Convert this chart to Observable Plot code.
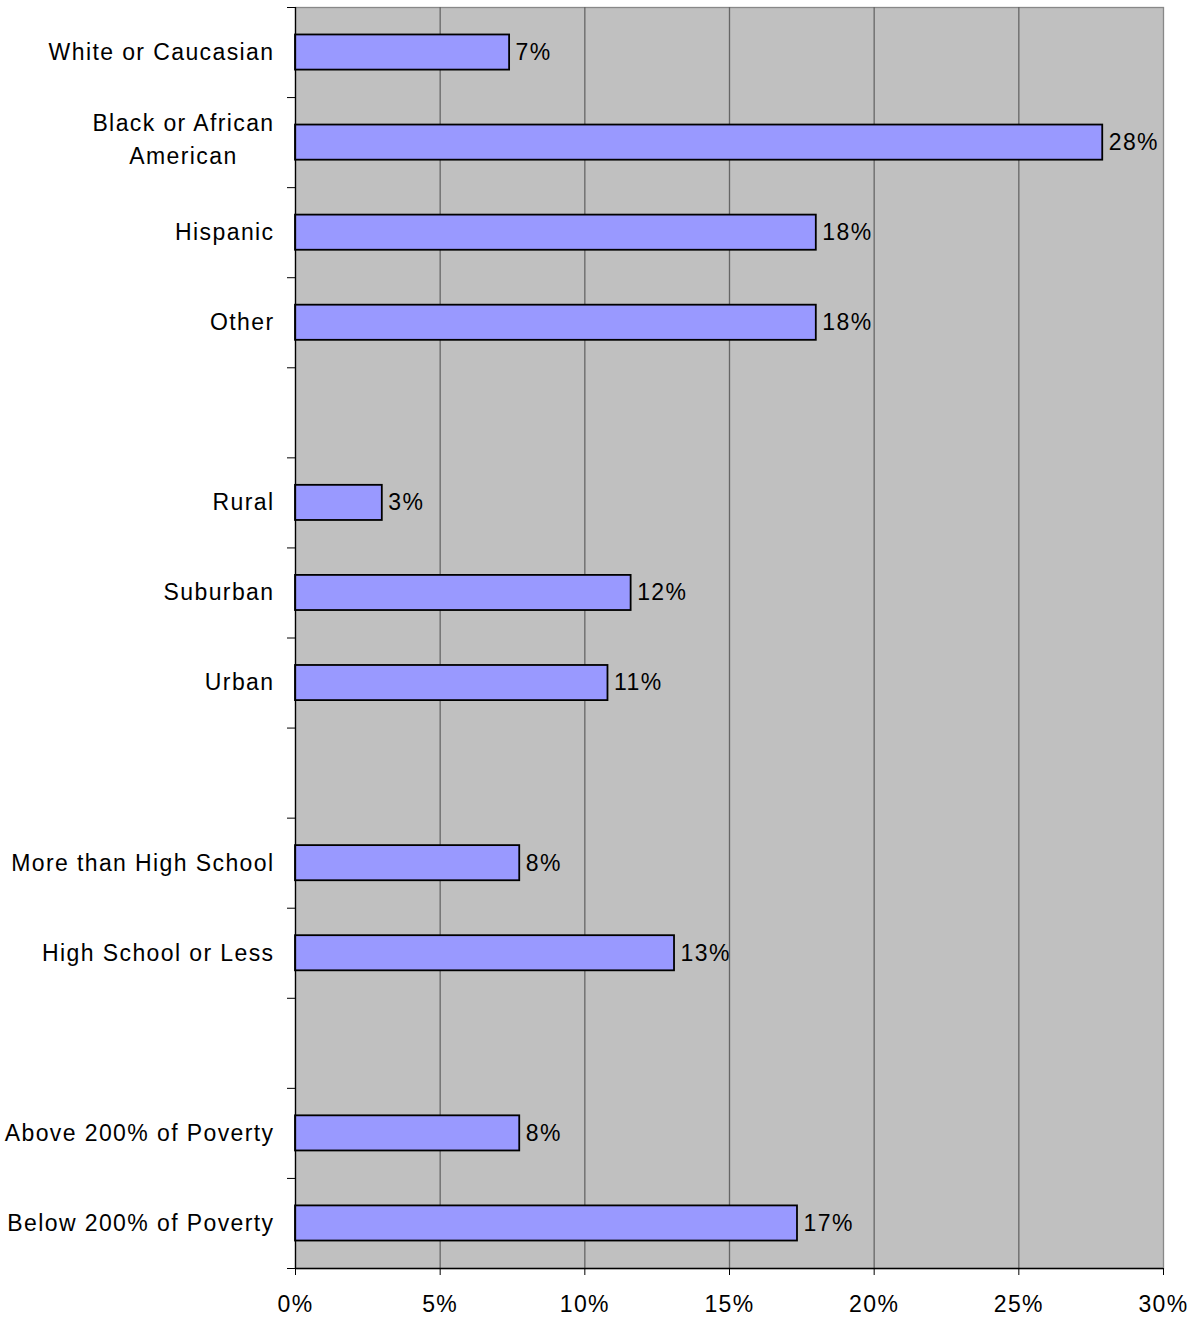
<!DOCTYPE html>
<html>
<head>
<meta charset="utf-8">
<script src="https://cdn.jsdelivr.net/npm/d3@7"></script>
<script src="https://cdn.jsdelivr.net/npm/@observablehq/plot@0.6"></script>
<style>
  html, body { margin: 0; padding: 0; background: #fff; }
  #chart svg { display: block; }
</style>
</head>
<body>
<div id="chart"></div>
<script>
// Categories top to bottom; empty strings are the gaps between groups
const categories = [
  "White or Caucasian",
  "Black or African\nAmerican",
  "Hispanic",
  "Other",
  "",
  "Rural",
  "Suburban",
  "Urban",
  "",
  "More than High School",
  "High School or Less",
  "",
  "Above 200% of Poverty",
  "Below 200% of Poverty"
];
// Percent values (null = gap)
const values = [7.4, 27.9, 18.0, 18.0, null, 3.0, 11.6, 10.8, null, 7.75, 13.1, null, 7.75, 17.35];
const xTicks = [0, 5, 10, 15, 20, 25, 30];

const FONT = "'Liberation Sans', Arial, sans-serif";
const FS = 23;
const LS = 1.4;

const rows = categories.map((label, i) => ({i, label, value: values[i]}));
const bars = rows.filter(d => d.value != null);
const single = rows.filter(d => d.label && !d.label.includes("\n"));
const multi = rows.filter(d => d.label.includes("\n"));

// measure text width for centered multi-line labels
const ctx = document.createElement("canvas").getContext("2d");
ctx.font = `${FS}px ${FONT}`;
function textWidth(s) { return ctx.measureText(s).width + LS * (s.length - 1); }

const labelGap = 21;

const marks = [
  Plot.frame({fill: "#C0C0C0", stroke: "#888888", strokeWidth: 1.3}),
  Plot.ruleX(xTicks.slice(1, -1), {stroke: "#666666", strokeWidth: 1.3}),
  Plot.rectX(bars, {
    x1: 0, x2: "value",
    y1: d => d.i + 0.305, y2: d => d.i + 0.695,
    fill: "#9999FF", stroke: "#000", strokeWidth: 1.8
  }),
  Plot.text(bars, {
    x: "value", y: d => d.i + 0.5,
    text: d => Math.round(d.value) + "%",
    textAnchor: "start", dx: 6, fill: "#000", fontSize: FS
  }),
  Plot.ruleX([0], {stroke: "#000", strokeWidth: 1.3}),
  Plot.ruleY([categories.length], {stroke: "#000", strokeWidth: 1.3}),
  Plot.axisX({
    ticks: xTicks, tickSize: 7, tickPadding: 20, label: null,
    tickFormat: d => d + "%", fontSize: FS, stroke: "#000"
  }),
  Plot.axisY({
    ticks: d3.range(0, categories.length + 1), tickSize: 8, label: null,
    tickFormat: () => "", stroke: "#000"
  }),
  Plot.text(single, {
    x: 0, y: d => d.i + 0.5, text: "label",
    textAnchor: "end", dx: -labelGap, fill: "#000", fontSize: FS
  })
];
for (const d of multi) {
  const w = Math.max(...d.label.split("\n").map(textWidth));
  marks.push(Plot.text([d], {
    x: 0, y: r => r.i + 0.5, text: "label",
    textAnchor: "middle", dx: -labelGap - w / 2, dy: -6,
    lineHeight: 1.45, fill: "#000", fontSize: FS
  }));
}

const chart = Plot.plot({
  width: 1192,
  height: 1320,
  marginTop: 7,
  marginBottom: 52,
  marginLeft: 295,
  marginRight: 29,
  style: {fontFamily: FONT, fontSize: FS + "px", background: "#fff", color: "#000"},
  x: {domain: [0, 30], axis: null, label: null},
  y: {domain: [0, categories.length], reverse: true, axis: null, label: null},
  marks
});
chart.style.letterSpacing = LS + "px";
document.getElementById("chart").appendChild(chart);
</script>
</body>
</html>
